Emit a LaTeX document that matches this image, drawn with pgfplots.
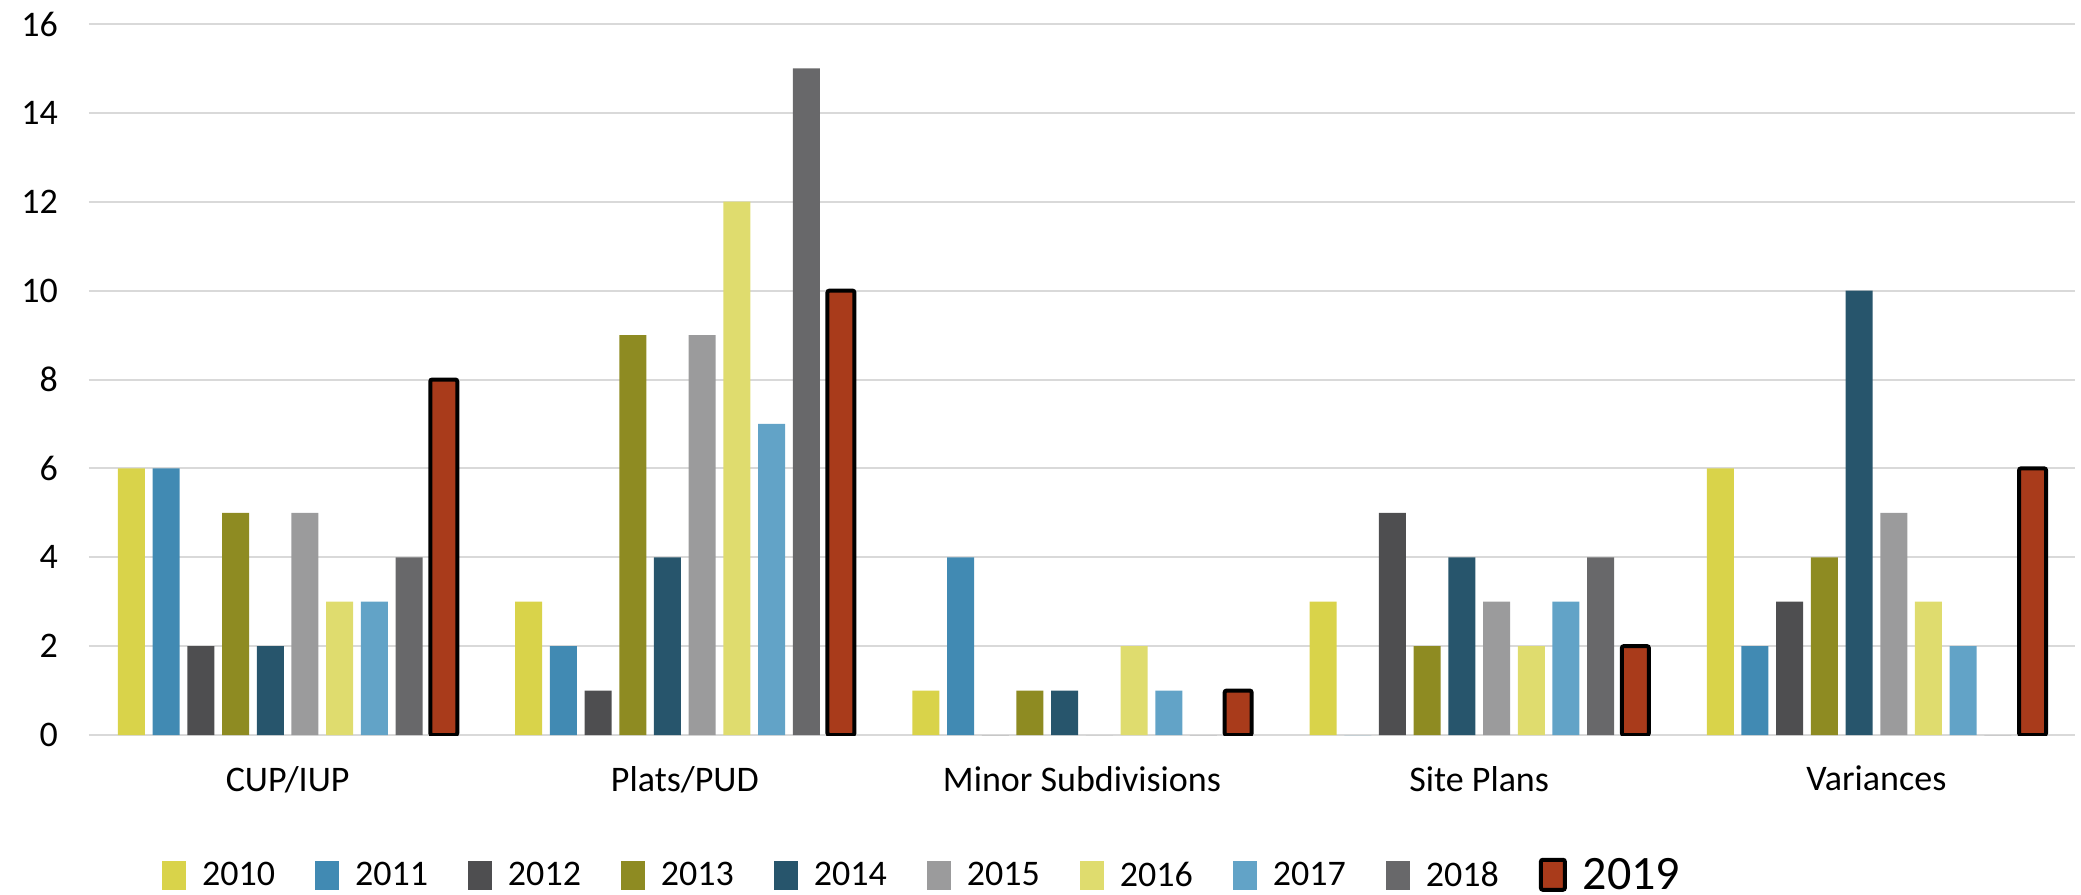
\documentclass[border=0pt]{standalone}
\usepackage{fontspec}
\setmainfont{Carlito}
\usepackage{pgfplots}
\pgfplotsset{compat=1.18}
\definecolor{c10}{HTML}{D9D34A}
\definecolor{c11}{HTML}{418AB3}
\definecolor{c12}{HTML}{4E4E50}
\definecolor{c13}{HTML}{8E8B22}
\definecolor{c14}{HTML}{27556C}
\definecolor{c15}{HTML}{9B9B9C}
\definecolor{c16}{HTML}{DFDC6E}
\definecolor{c17}{HTML}{62A3C7}
\definecolor{c18}{HTML}{68686A}
\definecolor{c19}{HTML}{A93B1B}
\definecolor{gridgray}{HTML}{D9D9D9}
\pgfplotsset{mybar/.style={ybar, bar width=13.5pt, draw=none,
  legend image code/.code={\fill[##1] (0pt,-7pt) rectangle (12pt,7.5pt);}},
  lastbar/.style={ybar, bar width=13.5pt, draw=black, line width=2pt, rounded corners=1pt,
  legend image code/.code={\draw[##1] (0pt,-7pt) rectangle (12pt,8pt);}}}
\begin{document}
\begin{tikzpicture}
\begin{axis}[
  scale only axis, width=993pt, height=355.5pt,
  xmin=-0.5, xmax=4.5, ymin=0, ymax=16,
  xtick={0,1,2,3,4},
  xticklabels={CUP/IUP, Plats/PUD, Minor Subdivisions, Site Plans, Variances},
  ytick={0,2,...,16},
  ymajorgrids, grid style={draw=gridgray, line width=1pt},
  axis line style={draw=none},
  major tick length=0pt,
  tick label style={font=\fontsize{18}{18}\selectfont},
  /pgf/number format/assume math mode=true,
  yticklabel style={xshift=-12pt},
  xticklabel style={yshift=-12pt},
  legend columns=10,
  legend style={at={(0.42,-0.198)}, anchor=center, draw=none, fill=none,
    font=\fontsize{18}{18}\selectfont,
    /tikz/every odd column/.append style={column sep=6pt},
    /tikz/every even column/.append style={column sep=18pt}},
]
\addplot[mybar, fill=c10, bar shift=-78.075pt] coordinates {(0,6) (1,3) (2,1) (3,3) (4,6)};
\addplot[mybar, fill=c11, bar shift=-60.725pt] coordinates {(0,6) (1,2) (2,4) (3,0) (4,2)};
\addplot[mybar, fill=c12, bar shift=-43.375pt] coordinates {(0,2) (1,1) (2,0) (3,5) (4,3)};
\addplot[mybar, fill=c13, bar shift=-26.025pt] coordinates {(0,5) (1,9) (2,1) (3,2) (4,4)};
\addplot[mybar, fill=c14, bar shift=-8.675pt] coordinates {(0,2) (1,4) (2,1) (3,4) (4,10)};
\addplot[mybar, fill=c15, bar shift=8.675pt] coordinates {(0,5) (1,9) (2,0) (3,3) (4,5)};
\addplot[mybar, fill=c16, bar shift=26.025pt] coordinates {(0,3) (1,12) (2,2) (3,2) (4,3)};
\addplot[mybar, fill=c17, bar shift=43.375pt] coordinates {(0,3) (1,7) (2,1) (3,3) (4,2)};
\addplot[mybar, fill=c18, bar shift=60.725pt] coordinates {(0,4) (1,15) (2,0) (3,4) (4,0)};
\addplot[lastbar, fill=c19, bar shift=78.075pt] coordinates {(0,8) (1,10) (2,1) (3,2) (4,6)};
\legend{2010,2011,2012,2013,2014,2015,2016,2017,2018,{\fontsize{24}{24}\selectfont 2019}}
\coordinate (bbsw) at (rel axis cs:0,0);
\coordinate (bbne) at (rel axis cs:1,1);
\end{axis}
\pgfresetboundingbox
\path ([shift={(-44.5pt,-79.5pt)}]bbsw) rectangle ([shift={(3pt,12pt)}]bbne);
\end{tikzpicture}
\end{document}
